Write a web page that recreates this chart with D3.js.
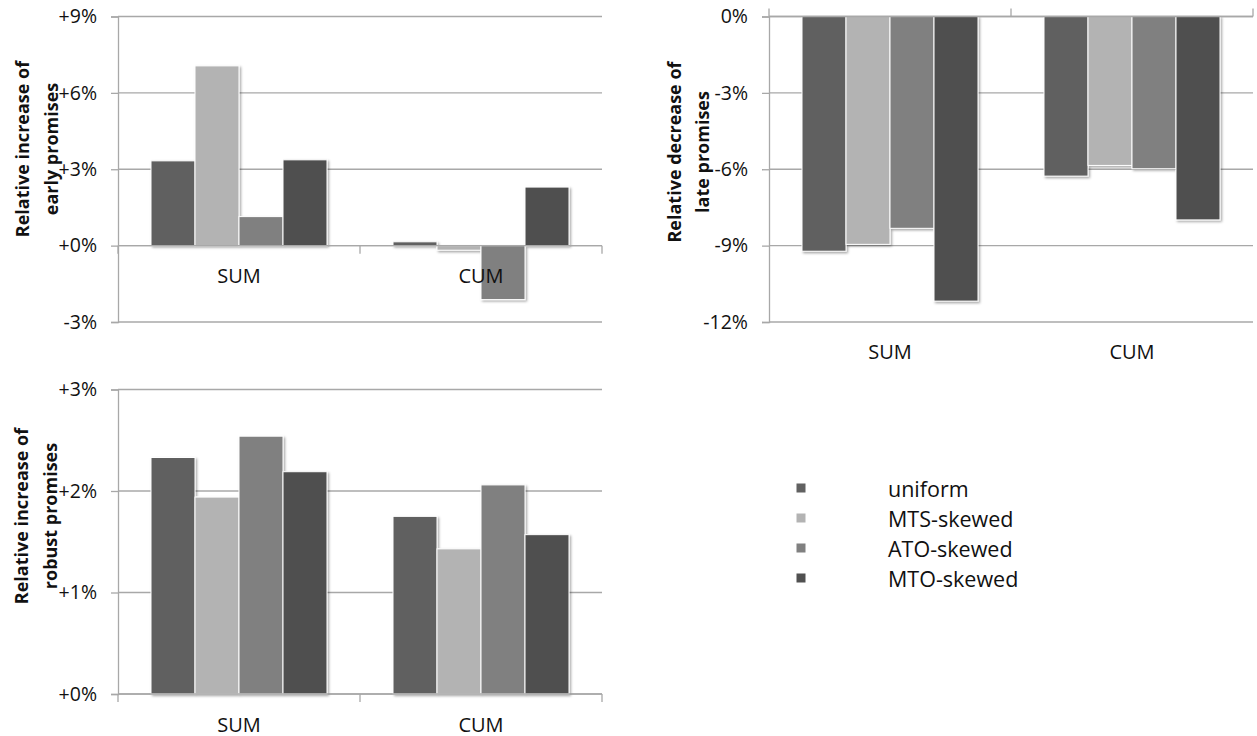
<!DOCTYPE html>
<html>
<head>
<meta charset="utf-8">
<script src="https://cdn.jsdelivr.net/npm/d3@7"></script>
<style>
  body { margin: 0; background: #fff; }
  text { font-family: "Open Sans", "Noto Sans", sans-serif; fill: #111; }
</style>
</head>
<body>
<svg id="chart" width="1257" height="736"></svg>
<script>
// Categories and series
const categories = ["SUM", "CUM"];
const seriesNames = ["uniform", "MTS-skewed", "ATO-skewed", "MTO-skewed"];
const seriesColors = ["#616161", "#b3b3b3", "#808080", "#505050"];

// Values in percent, one row per category (SUM, CUM), one entry per series
const earlyValues = [
  [3.33, 7.06, 1.14, 3.37],
  [0.15, -0.18, -2.12, 2.30]
];
const lateValues = [
  [-9.22, -8.95, -8.32, -11.18],
  [-6.27, -5.85, -5.98, -7.99]
];
const robustValues = [
  [2.33, 1.94, 2.54, 2.19],
  [1.75, 1.43, 2.06, 1.57]
];

// Tick values and labels
const earlyTicks = [-3, 0, 3, 6, 9];
const earlyTickLabels = ["-3%", "+0%", "+3%", "+6%", "+9%"];
const lateTicks = [-12, -9, -6, -3, 0];
const lateTickLabels = ["-12%", "-9%", "-6%", "-3%", "0%"];
const robustTicks = [0, 1, 2, 3];
const robustTickLabels = ["+0%", "+1%", "+2%", "+3%"];

const svg = d3.select("#chart");

// soft drop shadow for the bars
const defs = svg.append("defs");
const f = defs.append("filter").attr("id", "barShadow")
  .attr("x", "-10%").attr("y", "-10%").attr("width", "130%").attr("height", "130%");
f.append("feDropShadow").attr("dx", 1.5).attr("dy", 1.5)
  .attr("stdDeviation", 1).attr("flood-color", "#000").attr("flood-opacity", 0.35);

const gridColor = "#a8a8a8";

function drawPanel(cfg) {
  const g = svg.append("g");
  const x = d3.scaleBand().domain(categories).range(cfg.xRange).padding(0);
  const step = x.step();
  // clustered bars: 4 bars, 150% gap between clusters
  const xs = d3.scaleBand().domain(seriesNames)
    .range([step * 0.75 / 5.5, step * 4.75 / 5.5]).padding(0);
  const y = d3.scaleLinear().domain(cfg.yDomain).range(cfg.yRange);
  const x0 = cfg.xRange[0], x1 = cfg.xRange[1];

  // horizontal gridlines
  g.append("g").selectAll("line").data(cfg.ticks).join("line")
    .attr("x1", x0).attr("x2", x1)
    .attr("y1", d => y(d)).attr("y2", d => y(d))
    .attr("stroke", gridColor).attr("stroke-width", 1.3);

  // value axis
  const yAxis = d3.axisLeft(y).tickValues(cfg.ticks)
    .tickFormat((d, i) => cfg.tickLabels[i]).tickSize(7).tickPadding(14);
  const ya = g.append("g").attr("transform", `translate(${x0},0)`).call(yAxis);
  ya.select(".domain").attr("stroke", gridColor).attr("stroke-width", 1.3);
  ya.selectAll(".tick line").attr("stroke", gridColor).attr("stroke-width", 1.3);
  ya.selectAll(".tick text").style("font-size", "19.5px").style("font-family", "\"Open Sans\", sans-serif").attr("fill", "#111");

  // bars
  const rows = [];
  categories.forEach((c, ci) => {
    seriesNames.forEach((s, si) => {
      rows.push({ c, s, si, v: cfg.values[ci][si] });
    });
  });
  g.append("g").attr("filter", "url(#barShadow)").selectAll("rect").data(rows).join("rect")
    .attr("x", d => x(d.c) + xs(d.s))
    .attr("width", xs.bandwidth())
    .attr("y", d => Math.min(y(0), y(d.v)))
    .attr("height", d => Math.abs(y(d.v) - y(0)))
    .attr("fill", d => seriesColors[d.si])
    .attr("stroke", "#fff").attr("stroke-width", 1);

  // category axis line with separator ticks
  const ay = y(cfg.catAxisAt);
  const dir = cfg.tickUp ? -1 : 1;
  g.append("line").attr("x1", x0).attr("x2", x1).attr("y1", ay).attr("y2", ay)
    .attr("stroke", gridColor).attr("stroke-width", 1.3);
  const bounds = categories.map(c => x(c)).concat([x.range()[1]]);
  g.append("g").selectAll("line").data(bounds).join("line")
    .attr("x1", d => d).attr("x2", d => d)
    .attr("y1", ay).attr("y2", ay + dir * 8)
    .attr("stroke", gridColor).attr("stroke-width", 1.3);

  // category labels
  g.append("g").selectAll("text").data(categories).join("text")
    .attr("x", d => x(d) + step / 2)
    .attr("y", cfg.catLabelY)
    .attr("text-anchor", "middle").attr("dominant-baseline", "central")
    .style("font-size", "20px")
    .text(d => d);

  // rotated two-line axis title
  cfg.title.forEach((line, i) => {
    g.append("text")
      .attr("transform", `translate(${x0 - cfg.titleOffsets[i]},${cfg.titleY}) rotate(-90)`)
      .attr("text-anchor", "middle").attr("dominant-baseline", "central")
      .style("font-size", "18px").style("font-weight", "bold")
      .text(line);
  });
}

drawPanel({
  xRange: [118, 602], yDomain: [-3, 9], yRange: [322, 16.5],
  ticks: earlyTicks, tickLabels: earlyTickLabels, values: earlyValues,
  catAxisAt: 0, tickUp: false, catLabelY: 275,
  title: ["Relative increase of", "early promises"], titleOffsets: [96, 67], titleY: 149
});

drawPanel({
  xRange: [769, 1253], yDomain: [-12, 0], yRange: [322, 16.5],
  ticks: lateTicks, tickLabels: lateTickLabels, values: lateValues,
  catAxisAt: 0, tickUp: true, catLabelY: 351,
  title: ["Relative decrease of", "late promises"], titleOffsets: [95, 67], titleY: 152
});

drawPanel({
  xRange: [118, 602], yDomain: [0, 3], yRange: [694, 389.5],
  ticks: robustTicks, tickLabels: robustTickLabels, values: robustValues,
  catAxisAt: 0, tickUp: false, catLabelY: 724,
  title: ["Relative increase of", "robust promises"], titleOffsets: [97, 68], titleY: 516
});

// legend
const legend = svg.append("g").attr("transform", "translate(801,488)");
const li = legend.selectAll("g").data(seriesNames).join("g")
  .attr("transform", (d, i) => `translate(0,${i * 30})`);
li.append("rect").attr("x", -4.5).attr("y", -4.5).attr("width", 9).attr("height", 9)
  .attr("fill", (d, i) => seriesColors[i]);
li.append("text").attr("x", 87).attr("y", 0).attr("dominant-baseline", "central")
  .style("font-size", "21.5px").text(d => d);
</script>
</body>
</html>
